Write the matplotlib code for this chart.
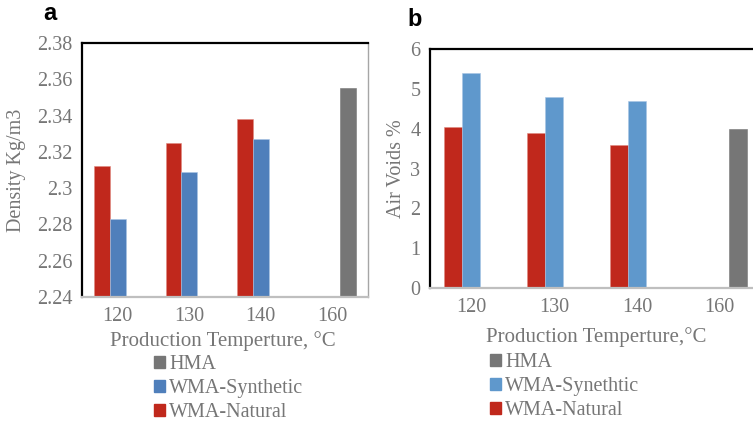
import numpy as np
import matplotlib
matplotlib.use('Agg')
import matplotlib.pyplot as plt
from matplotlib.patches import Patch

plt.rcParams['font.family'] = ['Liberation Serif', 'DejaVu Serif']

# data
temps = ['120', '130', '140', '160']
density_natural = [2.312, 2.325, 2.338, np.nan]
density_synthetic = [2.283, 2.309, 2.327, np.nan]
density_hma = [np.nan, np.nan, np.nan, 2.355]
voids_natural = [4.05, 3.9, 3.6, np.nan]
voids_synthetic = [5.4, 4.8, 4.7, np.nan]
voids_hma = [np.nan, np.nan, np.nan, 4.0]

red = '#C0281C'
blue_a = '#4F7FBB'
blue_b = '#5F98CC'
grey = '#767676'
txt = '#767676'

W, H = 753, 422
fig = plt.figure(figsize=(W / 100, H / 100), dpi=100)


def px(x0, y0, x1, y1):
    # pixel box -> figure fraction
    return [x0 / W, 1 - y1 / H, (x1 - x0) / W, (y1 - y0) / H]


def draw_panel(ax, nat, syn, hma, blue, ylim, yticks, ylabels, ylab):
    x = np.arange(len(temps))
    w = 0.22
    ax.bar(x - w, nat, w, color=red, edgecolor='#E08A80', linewidth=0.4)
    ax.bar(x, syn, w, color=blue, edgecolor='#A8C4E4', linewidth=0.4)
    ax.bar(x + w, hma, w, color=grey, edgecolor=grey, linewidth=0.4)
    ax.set_xlim(-0.5, len(temps) - 0.5)
    ax.set_ylim(*ylim)
    ax.set_yticks(yticks)
    ax.set_yticklabels(ylabels)
    ax.set_xticks(x)
    ax.set_xticklabels(temps)
    ax.tick_params(length=0, labelsize=14.5, labelcolor=txt)
    ax.tick_params(axis='x', pad=7)
    ax.tick_params(axis='y', pad=7)
    ax.spines['top'].set_color('black')
    ax.spines['top'].set_linewidth(1.6)
    ax.spines['left'].set_color('black')
    ax.spines['left'].set_linewidth(1.6)
    ax.spines['bottom'].set_color('#BFBFBF')
    ax.spines['bottom'].set_linewidth(1.6)
    ax.spines['right'].set_color('#A6A6A6')
    ax.spines['right'].set_linewidth(1.0)
    ax.set_ylabel(ylab, fontsize=14.5, color=txt)


# panel a
ax1 = fig.add_axes(px(82, 43, 368, 297))
ylabels_a = ['2.24', '2.26', '2.28', '2.3', '2.32', '2.34', '2.36', '2.38']
draw_panel(ax1, density_natural, density_synthetic, density_hma, blue_a,
           (2.24, 2.38), [float(v) for v in ylabels_a], ylabels_a, 'Density Kg/m3')
ax1.yaxis.set_label_coords(-56 / 286, 0.5)

# panel b (runs off the right edge like the original)
ax2 = fig.add_axes(px(430, 49, 761, 288))
ylabels_b = ['0', '1', '2', '3', '4', '5', '6']
draw_panel(ax2, voids_natural, voids_synthetic, voids_hma, blue_b,
           (0, 6), list(range(7)), ylabels_b, 'Air Voids %')
ax2.yaxis.set_label_coords(-24 / 331, 0.5)

fig.text(223 / W, 1 - 341 / H, 'Production Temperture, °C', fontsize=15,
         color=txt, ha='center', va='center')
fig.text(596 / W, 1 - 337 / H, 'Production Temperture,°C', fontsize=15,
         color=txt, ha='center', va='center')

fig.text(50 / W, 1 - 13 / H, 'a', fontsize=17, fontweight='bold',
         family='Liberation Sans', ha='center', va='center')
fig.text(415 / W, 1 - 20 / H, 'b', fontsize=17, fontweight='bold',
         family='Liberation Sans', ha='center', va='center')

leg_a = [Patch(color=grey, label='HMA'),
         Patch(color=blue_a, label='WMA-Synthetic'),
         Patch(color=red, label='WMA-Natural')]
leg_b = [Patch(color=grey, label='HMA'),
         Patch(color=blue_b, label='WMA-Synethtic'),
         Patch(color=red, label='WMA-Natural')]
for handles, (lx, ly) in ((leg_a, (154, 355)), (leg_b, (490, 353))):
    fig.legend(handles=handles, loc='upper left',
               bbox_to_anchor=(lx / W, 1 - ly / H), frameon=False,
               fontsize=14.5, labelcolor=txt, handlelength=0.55,
               handleheight=0.55, handletextpad=0.2, labelspacing=0.26,
               borderpad=0, borderaxespad=0)

fig.savefig('out.png', dpi=100)
